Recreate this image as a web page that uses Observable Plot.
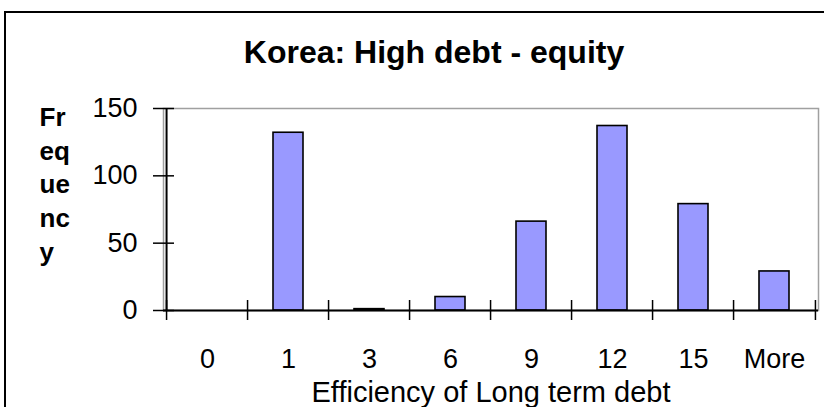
<!DOCTYPE html>
<html>
<head>
<meta charset="utf-8">
<script src="https://cdn.jsdelivr.net/npm/d3@7"></script>
<script src="https://cdn.jsdelivr.net/npm/@observablehq/plot@0.6"></script>
<style>
  html, body { margin: 0; padding: 0; background: white; }
  #chart { width: 824px; height: 407px; overflow: hidden; }
</style>
</head>
<body>
<div id="chart"></div>
<script>
const categories = ["0", "1", "3", "6", "9", "12", "15", "More"];
const frequencies = [0, 132, 1, 10, 66, 137, 79, 29];
const yTicks = [0, 50, 100, 150];
const titleText = "Korea: High debt - equity";
const xLabel = "Efficiency of Long term debt";
const yLabelLines = ["Fr", "eq", "ue", "nc", "y"];

const data = categories.map((c, i) => ({cat: c, value: frequencies[i]}));

const W = 824, H = 407, ML = 163, MR = 6, MT = 108, MB = 97;
const step = (W - ML - MR) / categories.length;

const plot = Plot.plot({
  width: W, height: H,
  marginLeft: ML, marginRight: MR, marginTop: MT, marginBottom: MB,
  style: {fontFamily: "'Liberation Sans', Arial, sans-serif", background: "white", color: "black", overflow: "visible"},
  x: {type: "band", domain: categories, paddingInner: 0.63, paddingOuter: 0.315, axis: null},
  y: {domain: [0, 150], axis: null},
  marks: [
    Plot.frame({stroke: "#a0a0a0", strokeWidth: 1.5}),
    Plot.barY(data.filter(d => d.value > 0), {x: "cat", y: "value", fill: "#9999ff", stroke: "black", strokeWidth: 1.6}),
    Plot.ruleY([0], {stroke: "black", strokeWidth: 2}),
    Plot.ruleX([categories[0]], {y1: 0, y2: 150, dx: -step / 2, stroke: "black", strokeWidth: 2}),
    Plot.axisY(yTicks, {tickSize: 21, dx: 11, tickFormat: () => "", strokeWidth: 1.5, label: null}),
    Plot.axisY(yTicks, {tickSize: 0, tickPadding: 26, fontSize: 27, label: null}),
    Plot.axisX(categories, {tickSize: 20, dx: -step / 2, dy: -10, tickFormat: () => "", strokeWidth: 1.5, label: null}),
    Plot.axisX([categories[categories.length - 1]], {tickSize: 20, dx: step / 2, dy: -10, tickFormat: () => "", strokeWidth: 1.5, label: null}),
    Plot.axisX(categories, {tickSize: 0, tickPadding: 38, fontSize: 27, label: null}),
    Plot.text([xLabel], {frameAnchor: "bottom", lineAnchor: "middle", dy: 82, fontSize: 29}),
    Plot.text([titleText], {frameAnchor: "top", lineAnchor: "middle", dx: -57, dy: -56, fontSize: 32, fontWeight: "bold"}),
    Plot.text([yLabelLines.join("\n")], {frameAnchor: "left", lineAnchor: "middle", textAnchor: "start", dx: -124, dy: -27, fontSize: 26, fontWeight: "bold", lineHeight: 1.3})
  ]
});

d3.select(plot).append("rect")
  .attr("x", 5).attr("y", 12)
  .attr("width", 840).attr("height", 420)
  .attr("fill", "none").attr("stroke", "black").attr("stroke-width", 2);

document.getElementById("chart").appendChild(plot);
</script>
</body>
</html>
